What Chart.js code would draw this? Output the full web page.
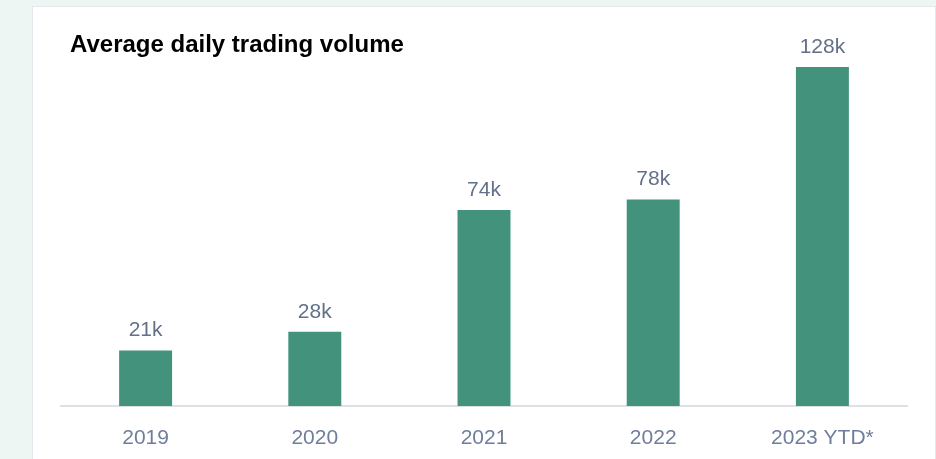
<!DOCTYPE html>
<html>
<head>
<meta charset="utf-8">
<script src="https://cdn.jsdelivr.net/npm/chart.js@4/dist/chart.umd.min.js"></script>
<style>
  html, body { margin: 0; padding: 0; }
  body { width: 936px; height: 459px; background: #eef6f3; position: relative; overflow: hidden; }
  #card { position: absolute; left: 32px; top: 6px; width: 904px; height: 470px; background: #fff; border: 1px solid #e2e8ec; box-sizing: border-box; }
  #myChart { position: absolute; left: 0; top: 0; }
</style>
</head>
<body>
<div id="card"></div>
<canvas id="myChart" width="936" height="459"></canvas>
<script>
const categorias = ["2019", "2020", "2021", "2022", "2023 YTD*"];
const volumenes = [21, 28, 74, 78, 128];
const etiquetas = ["21k", "28k", "74k", "78k", "128k"];
const titulo = "Average daily trading volume";

const fuente = "Arial, 'Liberation Sans', sans-serif";

// etiquetas encima de cada barra + titulo
const pluginEtiquetas = {
  id: "etiquetas",
  afterDatasetsDraw(chart) {
    const ctx = chart.ctx;
    const meta = chart.getDatasetMeta(0);
    ctx.save();
    ctx.font = "21px " + fuente;
    ctx.fillStyle = "#627089";
    ctx.textAlign = "center";
    ctx.textBaseline = "alphabetic";
    meta.data.forEach((bar, i) => {
      ctx.fillText(etiquetas[i], bar.x, bar.y - 14);
    });
    ctx.font = "bold 24px " + fuente;
    ctx.fillStyle = "#000";
    ctx.textAlign = "left";
    ctx.fillText(titulo, 70, 52);
    ctx.restore();
  }
};

const grafico = new Chart(document.getElementById("myChart"), {
  type: "bar",
  data: {
    labels: categorias,
    datasets: [{
      data: volumenes,
      backgroundColor: "#43927c",
      borderWidth: 0,
      categoryPercentage: 1,
      barPercentage: 0.313
    }]
  },
  options: {
    responsive: false,
    animation: false,
    layout: { padding: { left: 61, right: 29, top: 67, bottom: 0 } },
    plugins: { legend: { display: false }, tooltip: { enabled: false } },
    scales: {
      y: { display: false, min: 0, max: 128 },
      x: {
        grid: { display: false },
        border: { color: "#dde1e5", width: 2 },
        ticks: { color: "#6f7e9b", font: { family: fuente, size: 21 }, padding: 12 },
        afterFit(scale) { scale.height = 53; }
      }
    }
  },
  plugins: [pluginEtiquetas]
});
</script>
</body>
</html>
